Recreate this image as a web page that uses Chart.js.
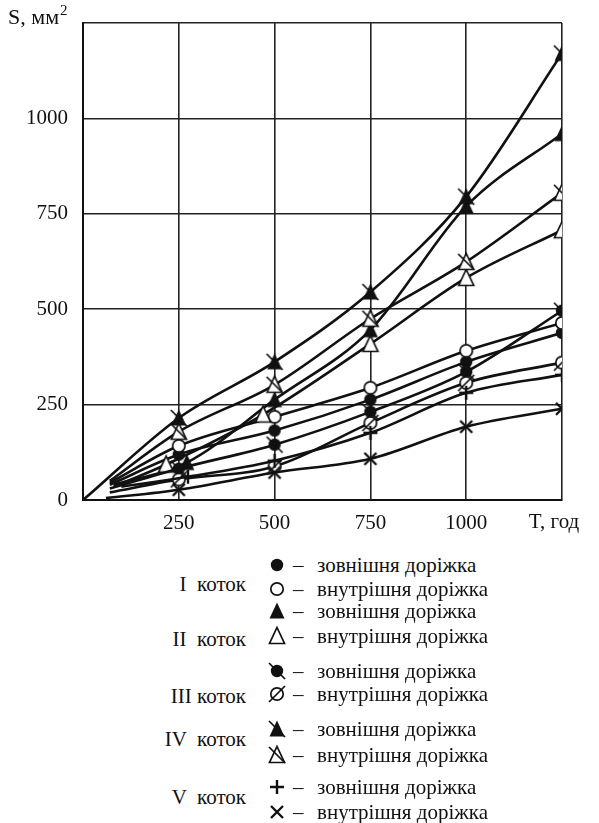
<!DOCTYPE html>
<html>
<head>
<meta charset="utf-8">
<script src="https://cdn.jsdelivr.net/npm/chart.js@4/dist/chart.umd.min.js"></script>
<style>
html,body{margin:0;padding:0;background:#fff;}
#wrap{position:relative;width:599px;height:823px;overflow:hidden;font-family:"Liberation Serif","DejaVu Serif",serif;color:#111;}
#cbox{position:absolute;left:0;top:0;width:599px;height:540px;}
.grp{position:absolute;font-size:21px;white-space:pre;}
.row{position:absolute;left:266px;height:22px;font-size:21px;white-space:pre;display:flex;align-items:center;}
.row canvas{width:22px;height:22px;margin-right:5px;}
.dash{display:inline-block;width:24px;}
</style>
</head>
<body>
<div id="wrap">
  <div id="cbox"><canvas id="c" width="599" height="540"></canvas></div>
  <div id="legend"></div>
</div>
<script>
// ---- data (T in hours, S in mm^2) ----
const xTicks = [0, 250, 500, 750, 1000, 1250];
const yTicks = [0, 250, 500, 750, 1000, 1250];

const T_I_outer  = [70, 250, 500, 750, 1000, 1250];
const S_I_outer  = [40, 119, 182, 263, 362, 438];
const T_I_inner  = [70, 250, 500, 750, 1000, 1250];
const S_I_inner  = [45, 142, 218, 294, 391, 464];

const T_II_outer = [80, 271, 500, 750, 1000, 1250];
const S_II_outer = [40, 98, 263, 446, 770, 960];
const T_II_inner = [80, 217, 470, 750, 1000, 1250];
const S_II_inner = [35, 93, 224, 409, 582, 707];

const T_III_outer = [70, 250, 500, 750, 1000, 1250];
const S_III_outer = [30, 82, 145, 231, 336, 496];
const T_III_inner = [70, 250, 500, 750, 1000, 1250];
const S_III_inner = [20, 54, 88, 202, 307, 360];

const T_IV_outer = [0, 250, 500, 750, 1000, 1250];
const S_IV_outer = [0, 215, 362, 545, 795, 1170];
const T_IV_inner = [70, 250, 500, 750, 1000, 1250];
const S_IV_inner = [50, 179, 302, 475, 624, 805];

const T_V_outer = [100, 274, 500, 750, 1000, 1250];
const S_V_outer = [35, 61, 103, 176, 281, 328];
const T_V_inner = [60, 250, 500, 750, 1000, 1250];
const S_V_inner = [5, 27, 72, 108, 192, 239];

const rollers = ['I  коток', 'II  коток', 'III коток', 'IV  коток', 'V  коток'];
const tracks = ['зовнішня доріжка', 'внутрішня доріжка'];

// ---- marker images ----
function mk(kind) {
  const s = 22, c = document.createElement('canvas');
  c.width = s; c.height = s;
  const g = c.getContext('2d');
  g.lineWidth = 1.7; g.strokeStyle = '#111'; g.fillStyle = '#111';
  const cx = 11, cy = 11;
  if (kind.startsWith('circle')) {
    g.beginPath(); g.arc(cx, cy, 6.2, 0, Math.PI * 2);
    if (kind.includes('Fill')) g.fill(); else { g.fillStyle = '#fff'; g.fill(); g.stroke(); }
  } else if (kind.startsWith('tri')) {
    g.beginPath(); g.moveTo(cx, 2.5); g.lineTo(cx + 7.5, cy + 7.5); g.lineTo(cx - 7.5, cy + 7.5); g.closePath();
    if (kind.includes('Fill')) g.fill(); else { g.fillStyle = '#fff'; g.fill(); g.stroke(); }
  } else if (kind === 'plus') {
    g.lineWidth = 2.4; g.beginPath(); g.moveTo(cx - 7, cy); g.lineTo(cx + 7, cy); g.moveTo(cx, cy - 7); g.lineTo(cx, cy + 7); g.stroke();
  } else if (kind === 'cross') {
    g.lineWidth = 2.4; g.beginPath(); g.moveTo(cx - 6, cy - 6); g.lineTo(cx + 6, cy + 6); g.moveTo(cx + 6, cy - 6); g.lineTo(cx - 6, cy + 6); g.stroke();
  }
  if (kind.includes('Slash')) {
    g.lineWidth = 1.7; g.strokeStyle = '#111';
    g.beginPath();
    if (kind.includes('SlashR')) { g.moveTo(cx + 8, cy - 8); g.lineTo(cx - 8, cy + 8); }
    else { g.moveTo(cx - 8, cy - 8); g.lineTo(cx + 8, cy + 8); }
    g.stroke();
  }
  return c;
}
const markerKinds = ['circleFill', 'circleOpen', 'triFill', 'triOpen',
  'circleFillSlash', 'circleOpenSlashR', 'triFillSlash', 'triOpenSlash', 'plus', 'cross'];

const seriesT = [T_I_outer, T_I_inner, T_II_outer, T_II_inner, T_III_outer, T_III_inner, T_IV_outer, T_IV_inner, T_V_outer, T_V_inner];
const seriesS = [S_I_outer, S_I_inner, S_II_outer, S_II_inner, S_III_outer, S_III_inner, S_IV_outer, S_IV_inner, S_V_outer, S_V_inner];

const datasets = seriesT.map((T, i) => {
  const img = mk(markerKinds[i]);
  return {
    label: rollers[Math.floor(i / 2)] + ' – ' + tracks[i % 2],
    data: T.map((t, j) => ({ x: t, y: seriesS[i][j] })),
    borderColor: '#111',
    borderWidth: 2.6,
    fill: false,
    cubicInterpolationMode: 'monotone',
    pointStyle: img,
    pointRadius: ctx => ctx.dataIndex === 0 ? 0 : 7,
    pointHoverRadius: 7,
    order: 10 - i
  };
});

const titles = {
  id: 'titles',
  afterDraw(chart) {
    const g = chart.ctx, x = chart.scales.x, y = chart.scales.y;
    g.save();
    g.fillStyle = '#111';
    g.textBaseline = 'middle';
    g.font = '22px "Liberation Serif"';
    const top = y.getPixelForValue(1250);
    g.textAlign = 'left';
    g.fillText('S, мм', 8, top - 5);
    const w = g.measureText('S, мм').width;
    g.font = '15px "Liberation Serif"';
    g.fillText('2', 8 + w + 1, top - 12);
    g.font = '21px "Liberation Serif"';
    g.textAlign = 'center';
    g.fillText('T, год', x.getPixelForValue(1250) - 8, chart.chartArea.bottom + 22);
    g.restore();
  }
};

new Chart(document.getElementById('c'), {
  type: 'line',
  data: { datasets },
  options: {
    responsive: false,
    animation: false,
    events: [],
    layout: { padding: { left: 0, right: 37, top: 23, bottom: 0 } },
    plugins: { legend: { display: false }, tooltip: { enabled: false } },
    scales: {
      x: {
        type: 'linear', min: 0, max: 1250,
        afterBuildTicks: s => { s.ticks = xTicks.map(v => ({ value: v })); },
        afterFit: s => { s.height = 40; s.paddingLeft = 0; s.paddingRight = 0; },
        grid: { color: '#222', lineWidth: 1.6, drawTicks: false },
        border: { color: '#111', width: 2 },
        ticks: {
          padding: 11, color: '#111',
          font: { family: 'Liberation Serif', size: 21 },
          callback: v => (v === 0 || v === 1250) ? '' : String(v)
        }
      },
      y: {
        type: 'linear', min: 0, max: 1250,
        afterBuildTicks: s => { s.ticks = yTicks.map(v => ({ value: v })); },
        afterFit: s => { s.width = 83; s.paddingTop = 0; s.paddingBottom = 0; },
        grid: { color: '#222', lineWidth: 1.6, drawTicks: false },
        border: { color: '#111', width: 2 },
        ticks: {
          padding: 15, color: '#111',
          font: { family: 'Liberation Serif', size: 21 },
          callback: v => v === 1250 ? '' : String(v)
        }
      }
    }
  },
  plugins: [titles]
});

// ---- HTML legend ----
const legend = document.getElementById('legend');
const rowY = [565, 589, 611, 636, 671, 694, 729, 755, 787, 812];
const grpY = [585, 640, 697, 740, 798];
rollers.forEach((r, i) => {
  const d = document.createElement('div');
  d.className = 'grp';
  d.textContent = r;
  d.style.right = (599 - 246) + 'px';
  d.style.top = (grpY[i] - 13) + 'px';
  legend.appendChild(d);
});
markerKinds.forEach((k, i) => {
  const d = document.createElement('div');
  d.className = 'row';
  d.style.top = (rowY[i] - 11) + 'px';
  d.appendChild(mk(k));
  const ds = document.createElement('span');
  ds.className = 'dash';
  ds.textContent = '–';
  d.appendChild(ds);
  const sp = document.createElement('span');
  sp.textContent = tracks[i % 2];
  d.appendChild(sp);
  legend.appendChild(d);
});
</script>
</body>
</html>
